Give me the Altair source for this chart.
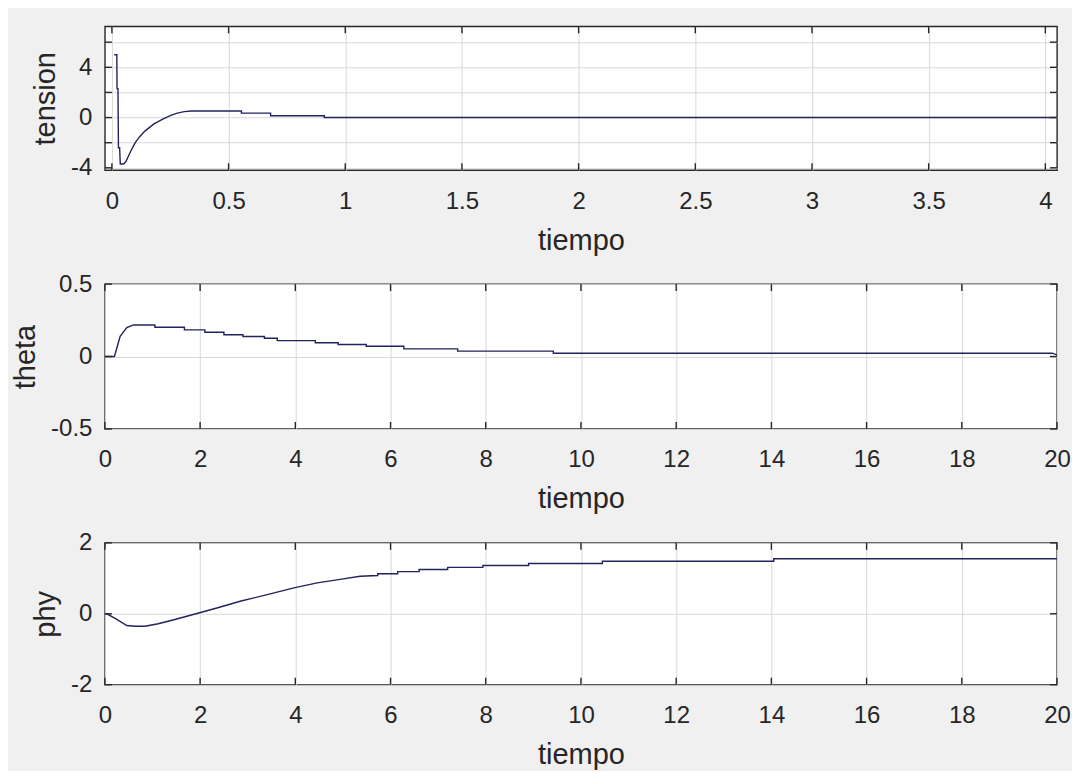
import altair as alt
import pandas as pd

# ---------------- data ----------------
# panel 1: tension vs tiempo
tension_t = [0.01, 0.021, 0.022, 0.026, 0.028, 0.033, 0.036, 0.05, 0.06, 0.08, 0.10, 0.12,
             0.14, 0.16, 0.18, 0.20, 0.22, 0.25, 0.28, 0.31, 0.34, 0.555, 0.555, 0.68, 0.68,
             0.91, 0.91, 4.05]
tension_v = [5.0, 5.0, 2.3, 2.3, -2.4, -2.4, -3.7, -3.7, -3.5, -2.7, -2.0, -1.5,
             -1.1, -0.8, -0.5, -0.3, -0.1, 0.15, 0.35, 0.47, 0.52, 0.52, 0.35, 0.35, 0.14,
             0.14, 0.0, 0.0]

# panel 2: theta vs tiempo
theta_t = [0.0, 0.2, 0.32, 0.46, 0.6, 1.05, 1.05, 1.67, 1.67, 2.1, 2.1, 2.5, 2.5, 2.9, 2.9,
           3.35, 3.35, 3.62, 3.62, 4.42, 4.42, 4.9, 4.9, 5.49, 5.49, 6.28, 6.28, 7.41, 7.41,
           9.42, 9.42, 19.9, 20.0]
theta_v = [0.0, 0.0, 0.14, 0.2, 0.218, 0.218, 0.202, 0.202, 0.184, 0.184, 0.168, 0.168, 0.15,
           0.15, 0.138, 0.138, 0.126, 0.126, 0.11, 0.11, 0.095, 0.095, 0.083, 0.083, 0.071,
           0.071, 0.053, 0.053, 0.037, 0.037, 0.023, 0.023, 0.011]
theta_t = theta_t[:len(theta_v)]

# panel 3: phy vs tiempo
phy_t = [0.0, 0.04, 0.25, 0.46, 0.63, 0.84, 1.12, 1.47, 1.99, 2.37, 2.86, 3.41, 3.97, 4.46,
         4.94, 5.36, 5.73, 5.73, 6.15, 6.15, 6.6, 6.6, 7.2, 7.2, 7.94, 7.94, 8.9, 8.9,
         10.45, 10.45, 14.05, 14.05, 20.0]
phy_v = [0.0, 0.0, -0.16, -0.33, -0.35, -0.35, -0.28, -0.16, 0.03, 0.17, 0.36, 0.54, 0.73,
         0.87, 0.97, 1.06, 1.08, 1.13, 1.13, 1.19, 1.19, 1.25, 1.25, 1.31, 1.31, 1.36, 1.36,
         1.42, 1.42, 1.48, 1.48, 1.55, 1.55]

# axes
tension_xdomain = [-0.03, 4.05]
tension_xticks = [0, 0.5, 1, 1.5, 2, 2.5, 3, 3.5, 4]
tension_ydomain = [-4.19, 7.26]
tension_yticks = [-4, -2, 0, 2, 4, 6]
tension_ylabels = [-4, 0, 4]

theta_xdomain = [0, 20]
theta_xticks = [0, 2, 4, 6, 8, 10, 12, 14, 16, 18, 20]
theta_ydomain = [-0.5, 0.5]
theta_yticks = [-0.5, 0, 0.5]

phy_xdomain = [0, 20]
phy_xticks = [0, 2, 4, 6, 8, 10, 12, 14, 16, 18, 20]
phy_ydomain = [-2, 2]
phy_yticks = [-2, 0, 2]

x_title = "tiempo"

# ---------------- style ----------------
W = 953
LINE = "#22225e"
INK = "#262626"
GRID = "#d8d8d8"
FONT = "Liberation Sans"
TICK_FS = 24
TITLE_FS = 29
TICK_LEN = 7


def panel(t, v, xdom, xticks, ydom, yticks, ylabels, ytitle, h):
    df = pd.DataFrame({"t": t, "v": v})
    xt = pd.DataFrame({"t": xticks})
    yt = pd.DataFrame({"v": yticks})
    label_expr = "indexof(%s, datum.value) >= 0 ? datum.value + '' : ''" % str(ylabels)

    xs = alt.Scale(domain=xdom, nice=False, zero=False)
    ys = alt.Scale(domain=ydom, nice=False, zero=False)
    xaxis = alt.Axis(values=xticks, title=x_title, grid=True, ticks=False, domain=False,
                     labelPadding=19, titlePadding=13, labelFlush=False,
                     labelExpr="datum.value + ''")
    yaxis = alt.Axis(values=yticks, title=ytitle, grid=True, ticks=False, domain=False,
                     labelPadding=13, titlePadding=10, labelExpr=label_expr)

    X = alt.X("t:Q", scale=xs, axis=xaxis)
    Y = alt.Y("v:Q", scale=ys, axis=yaxis)

    line = alt.Chart(df).mark_line(color=LINE, strokeWidth=1.4, clip=True).encode(x=X, y=Y)
    bt = alt.Chart(xt).mark_rule(color=INK, strokeWidth=1.4).encode(
        x=X, y=alt.value(h), y2=alt.value(h - TICK_LEN))
    tt = alt.Chart(xt).mark_rule(color=INK, strokeWidth=1.4).encode(
        x=X, y=alt.value(0), y2=alt.value(TICK_LEN))
    lt = alt.Chart(yt).mark_rule(color=INK, strokeWidth=1.4).encode(
        y=Y, x=alt.value(0), x2=alt.value(TICK_LEN))
    rt = alt.Chart(yt).mark_rule(color=INK, strokeWidth=1.4).encode(
        y=Y, x=alt.value(W), x2=alt.value(W - TICK_LEN))
    return alt.layer(line, bt, tt, lt, rt).properties(width=W, height=h)


p1 = panel(tension_t, tension_v, tension_xdomain, tension_xticks, tension_ydomain,
           tension_yticks, tension_ylabels, "tension", 144)
p2 = panel(theta_t, theta_v, theta_xdomain, theta_xticks, theta_ydomain,
           theta_yticks, theta_yticks, "theta", 145)
p3 = panel(phy_t, phy_v, phy_xdomain, phy_xticks, phy_ydomain,
           phy_yticks, phy_yticks, "phy", 142)

chart = alt.vconcat(p1, p2, p3, spacing=114, bounds="flush").properties(
    background="#f0f0f0",
    padding={"left": 2, "top": 16, "right": 0, "bottom": 0},
).configure_view(
    stroke=INK, strokeWidth=1.4, fill="white"
).configure_axis(
    labelFont=FONT, labelFontSize=TICK_FS, labelColor=INK,
    titleFont=FONT, titleFontSize=TITLE_FS, titleColor=INK, titleFontWeight="normal",
    gridColor=GRID, gridWidth=1,
)

chart.save("out.html", embed_options={"renderer": "svg", "actions": False})
